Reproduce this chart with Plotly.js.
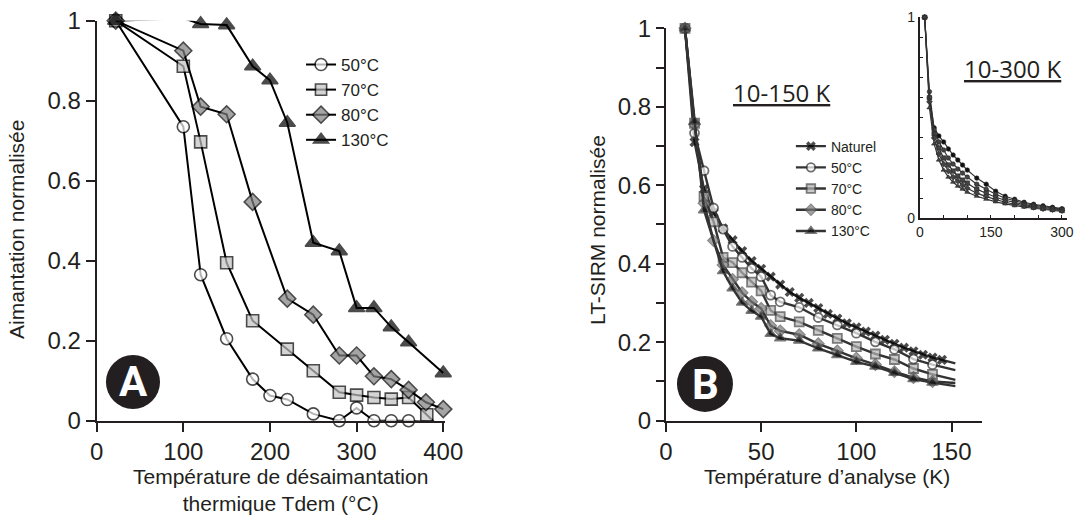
<!DOCTYPE html>
<html>
<head>
<meta charset="utf-8">
<script src="https://cdn.plot.ly/plotly-3.0.1.min.js"></script>
<style>html,body{margin:0;padding:0;background:#fff;}#chart{width:1079px;height:516px;}</style>
</head>
<body>
<div id="chart"></div>
<script>
// ---------- Panel A : thermal demagnetisation ----------
const tA = [22, 100, 120, 150, 180, 200, 220, 250, 280, 300, 320, 340, 360, 402];
const a50 = [1.0, 0.735, 0.365, 0.205, 0.104, 0.063, 0.053, 0.017, 0.0, 0.032, 0.0, 0.0, 0.0, -0.005];
const tA70 = [22, 100, 120, 150, 180, 220, 250, 280, 300, 320, 340, 360, 381, 402];
const a70 = [1.0, 0.886, 0.697, 0.395, 0.250, 0.179, 0.125, 0.071, 0.064, 0.058, 0.054, 0.058, 0.015, -0.03];
const tA80 = [22, 100, 120, 150, 180, 220, 250, 280, 300, 320, 340, 360, 380, 400];
const a80 = [1.0, 0.925, 0.785, 0.766, 0.547, 0.305, 0.265, 0.163, 0.163, 0.111, 0.104, 0.077, 0.046, 0.029];
const tA130 = [22, 100, 120, 150, 180, 200, 220, 250, 280, 300, 320, 340, 360, 400];
const a130 = [1.0, 1.006, 0.992, 0.989, 0.886, 0.851, 0.745, 0.445, 0.424, 0.282, 0.282, 0.234, 0.196, 0.119];
const legendA = ['50°C', '70°C', '80°C', '130°C'];

// ---------- Panel B : LT-SIRM 10-150 K ----------
const tNat = [10, 15, 20, 25, 30, 35, 40, 45, 50, 55, 60, 65, 70, 75, 80, 85, 90, 95, 100, 105, 110, 115, 120, 125, 130, 135, 140, 145, 152];
const bNat = [1.0, 0.71, 0.59, 0.53, 0.49, 0.46, 0.432, 0.407, 0.387, 0.367, 0.347, 0.328, 0.313, 0.300, 0.287, 0.272, 0.260, 0.248, 0.238, 0.227, 0.217, 0.206, 0.196, 0.186, 0.177, 0.168, 0.161, 0.155, 0.146];
const tB = [10, 15, 20, 25, 30, 35, 40, 45, 50, 55, 60, 70, 80, 90, 100, 110, 120, 130, 140, 152];
const b50 = [1.0, 0.733, 0.637, 0.542, 0.488, 0.444, 0.416, 0.388, 0.367, 0.320, 0.303, 0.289, 0.263, 0.244, 0.223, 0.201, 0.182, 0.157, 0.143, 0.129];
const b70 = [1.0, 0.758, 0.571, 0.507, 0.416, 0.403, 0.377, 0.353, 0.331, 0.281, 0.265, 0.252, 0.230, 0.210, 0.189, 0.170, 0.156, 0.133, 0.118, 0.104];
const b80 = [1.0, 0.755, 0.554, 0.459, 0.397, 0.360, 0.326, 0.303, 0.286, 0.242, 0.229, 0.219, 0.196, 0.178, 0.159, 0.143, 0.125, 0.110, 0.100, 0.096];
const tB130 = [10, 15, 20, 30, 35, 40, 45, 50, 55, 60, 70, 80, 90, 100, 110, 120, 130, 140, 152];
const b130 = [1.0, 0.762, 0.536, 0.381, 0.337, 0.301, 0.280, 0.265, 0.221, 0.210, 0.204, 0.184, 0.167, 0.150, 0.138, 0.122, 0.106, 0.097, 0.088];
const legendB = ['Naturel', '50°C', '70°C', '80°C', '130°C'];

// ---------- Inset : LT-SIRM 10-300 K ----------
const tIn = [10, 20, 30, 40, 50, 60, 70, 80, 90, 100, 120, 140, 160, 180, 200, 220, 240, 260, 280, 300];
const inNat = [1, 0.60, 0.45, 0.41, 0.38, 0.345, 0.315, 0.29, 0.265, 0.24, 0.20, 0.17, 0.135, 0.11, 0.095, 0.08, 0.07, 0.062, 0.055, 0.048];
const in50 = [1, 0.63, 0.44, 0.38, 0.34, 0.30, 0.27, 0.245, 0.225, 0.205, 0.17, 0.145, 0.12, 0.10, 0.087, 0.075, 0.066, 0.058, 0.051, 0.045];
const in70 = [1, 0.60, 0.42, 0.35, 0.30, 0.265, 0.235, 0.21, 0.19, 0.175, 0.145, 0.125, 0.105, 0.09, 0.078, 0.068, 0.06, 0.053, 0.047, 0.042];
const in80 = [1, 0.58, 0.40, 0.32, 0.27, 0.235, 0.205, 0.185, 0.165, 0.15, 0.125, 0.108, 0.093, 0.08, 0.07, 0.062, 0.055, 0.048, 0.043, 0.038];
const in130 = [1, 0.55, 0.37, 0.29, 0.24, 0.205, 0.18, 0.16, 0.145, 0.13, 0.11, 0.095, 0.082, 0.072, 0.063, 0.056, 0.05, 0.044, 0.039, 0.034];

const FONT = 'Liberation Sans, Arial, sans-serif';
const INK = '#231f20';

// marker size helpers (hide markers on line-only points)
function sizes(xs, s, hide) { return xs.map((x, i) => hide.includes(i) ? 0 : s); }

const traces = [];
// Panel A
const stA = [
  {sym: 'circle', fill: '#ffffff', s: 12},
  {sym: 'square', fill: '#c2c2c2', s: 12},
  {sym: 'diamond', fill: '#7f7f7f', s: 13},
  {sym: 'triangle-up', fill: '#000000', s: 14}
];
const hideA = [[], [13], [], [1]];
const dataA = [[tA, a50], [tA70, a70], [tA80, a80], [tA130, a130]];
dataA.forEach((d, k) => {
  traces.push({
    x: d[0], y: d[1], xaxis: 'x', yaxis: 'y', type: 'scatter', mode: 'lines+markers',
    name: legendA[k], legend: 'legend', cliponaxis: false,
    line: {color: '#000', width: 2},
    marker: {symbol: stA[k].sym, color: stA[k].fill, size: sizes(d[0], stA[k].s, hideA[k]),
             line: {color: '#000', width: 1.6}}
  });
});

// Panel B
const stB = [
  {sym: 'x', fill: '#000', lc: '#000', lw: 0, s: 9},
  {sym: 'circle', fill: '#ffffff', lc: '#333', lw: 1.8, s: 9},
  {sym: 'square', fill: '#b5b5b5', lc: '#444', lw: 1.8, s: 9},
  {sym: 'diamond', fill: '#7a7a7a', lc: '#555', lw: 1.2, s: 9},
  {sym: 'triangle-up', fill: '#111', lc: '#444', lw: 1.2, s: 10}
];
const dataB = [[tNat, bNat], [tB, b50], [tB, b70], [tB, b80], [tB130, b130]];
dataB.forEach((d, k) => {
  traces.push({
    x: d[0], y: d[1], xaxis: 'x2', yaxis: 'y2', type: 'scatter', mode: 'lines+markers',
    name: legendB[k], legend: 'legend2', cliponaxis: false,
    line: {color: '#333', width: 2.4},
    marker: {symbol: stB[k].sym, color: stB[k].fill, size: sizes(d[0], stB[k].s, [d[0].length - 1]),
             line: {color: stB[k].lc, width: stB[k].lw}}
  });
});

// Inset
const dataIn = [inNat, in50, in70, in80, in130];
const symIn = ['circle', 'circle', 'square', 'diamond', 'triangle-up'];
dataIn.forEach((v, k) => {
  traces.push({
    x: tIn, y: v, xaxis: 'x3', yaxis: 'y3', type: 'scatter', mode: 'lines+markers',
    showlegend: false, cliponaxis: false,
    line: {color: '#333', width: 1.2},
    marker: {symbol: symIn[k], size: 4.5, color: k === 0 ? '#111' : '#444', line: {color: '#222', width: 0.6}}
  });
});

const axisBase = {
  showline: true, linecolor: INK, linewidth: 2, ticks: 'outside', ticklen: 9, tickwidth: 2,
  tickcolor: INK, showgrid: false, zeroline: false, fixedrange: true,
  tickfont: {family: FONT, size: 24, color: INK}
};

const layout = {
  width: 1079, height: 516,
  margin: {l: 0, r: 0, t: 0, b: 0},
  paper_bgcolor: '#fff', plot_bgcolor: 'rgba(0,0,0,0)',
  showlegend: true, hovermode: false,
  font: {family: FONT, color: INK},
  xaxis: Object.assign({}, axisBase, {domain: [0.0896, 0.4124], anchor: 'y', range: [0, 402], tickvals: [0, 100, 200, 300, 400]}),
  yaxis: Object.assign({}, axisBase, {domain: [0.1847, 0.9599], anchor: 'x', range: [0, 1], dtick: 0.2, tick0: 0}),
  xaxis2: Object.assign({}, axisBase, {domain: [0.6172, 0.9101], anchor: 'y2', range: [0, 166], tickvals: [0, 50, 100, 150]}),
  yaxis2: Object.assign({}, axisBase, {domain: [0.1847, 0.9452], anchor: 'x2', range: [0, 1], dtick: 0.2, tick0: 0, ticklen: 8,
           minor: {dtick: 0.1, tick0: 0, ticks: 'outside', ticklen: 8, tickwidth: 2, tickcolor: INK}}),
  xaxis3: Object.assign({}, axisBase, {domain: [0.8526, 0.9886], anchor: 'y3', range: [0, 310], tickvals: [0, 150, 300],
           ticks: 'inside', ticklen: 3, tickwidth: 1, tickfont: {family: FONT, size: 14, color: INK},
           minor: {dtick: 50, tick0: 0, ticks: 'inside', ticklen: 3, tickwidth: 1, tickcolor: INK}}),
  yaxis3: Object.assign({}, axisBase, {domain: [0.5769, 0.9665], anchor: 'x3', range: [0, 1], tickvals: [0, 1],
           ticks: 'inside', ticklen: 3, tickwidth: 1, tickfont: {family: FONT, size: 14, color: INK},
           minor: {dtick: 0.1, tick0: 0, ticks: 'inside', ticklen: 3, tickwidth: 1, tickcolor: INK}}),
  legend: {x: 0.279, y: 0.909, xanchor: 'left', yanchor: 'top', bgcolor: 'rgba(0,0,0,0)', borderwidth: 0,
           font: {family: FONT, size: 17, color: INK}, tracegroupgap: 0},
  legend2: {x: 0.733, y: 0.747, xanchor: 'left', yanchor: 'top', bgcolor: 'rgba(0,0,0,0)', borderwidth: 0,
           font: {family: FONT, size: 14, color: INK}, tracegroupgap: 0},
  shapes: [
    {type: 'circle', xref: 'paper', yref: 'paper', x0: 0.0982, x1: 0.1483, y0: 0.2074, y1: 0.3120,
     fillcolor: '#231f20', line: {width: 0}, layer: 'above'},
    {type: 'circle', xref: 'paper', yref: 'paper', x0: 0.6274, x1: 0.6793, y0: 0.2016, y1: 0.3101,
     fillcolor: '#231f20', line: {width: 0}, layer: 'above'}
  ],
  annotations: [
    {text: 'A', xref: 'paper', yref: 'paper', x: 0.1233, y: 0.2597, xanchor: 'center', yanchor: 'middle', showarrow: false,
     font: {family: 'Roboto, sans-serif', size: 42, color: '#fff', weight: 'bold'}},
    {text: 'B', xref: 'paper', yref: 'paper', x: 0.6534, y: 0.2558, xanchor: 'center', yanchor: 'middle', showarrow: false,
     font: {family: 'Roboto, sans-serif', size: 42, color: '#fff', weight: 'bold'}},
    {text: 'Température de désaimantation<br>thermique Tdem (°C)', xref: 'paper', yref: 'paper', x: 0.2595, y: 0.0504,
     xanchor: 'center', yanchor: 'middle', showarrow: false, font: {family: FONT, size: 21, color: INK}},
    {text: 'Température d\u2019analyse (K)', xref: 'paper', yref: 'paper', x: 0.7662, y: 0.0775,
     xanchor: 'center', yanchor: 'middle', showarrow: false, font: {family: FONT, size: 21, color: INK}},
    {text: 'Aimantation normalisée', xref: 'paper', yref: 'paper', x: 0.0158, y: 0.5543, textangle: -90,
     xanchor: 'center', yanchor: 'middle', showarrow: false, font: {family: FONT, size: 21, color: INK}},
    {text: 'LT-SIRM normalisée', xref: 'paper', yref: 'paper', x: 0.5542, y: 0.5543, textangle: -90,
     xanchor: 'center', yanchor: 'middle', showarrow: false, font: {family: FONT, size: 21, color: INK}},
    {text: '<u>10-150 K</u>', xref: 'paper', yref: 'paper', x: 0.7243, y: 0.8198,
     xanchor: 'center', yanchor: 'middle', showarrow: false, font: {family: 'Open Sans, sans-serif', size: 24, color: INK}},
    {text: '<u>10-300 K</u>', xref: 'paper', yref: 'paper', x: 0.9389, y: 0.8682,
     xanchor: 'center', yanchor: 'middle', showarrow: false, font: {family: 'Open Sans, sans-serif', size: 24, color: INK}}
  ]
};

Plotly.newPlot('chart', traces, layout, {staticPlot: true, displayModeBar: false});
</script>
</body>
</html>
